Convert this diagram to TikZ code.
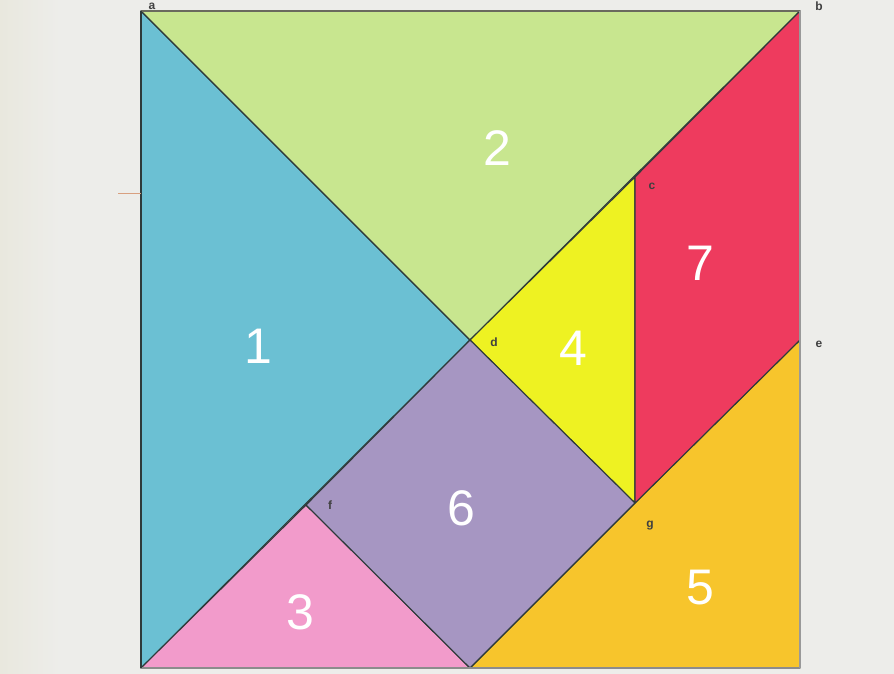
\documentclass[tikz,border=0pt]{standalone}
\usepackage{fontspec}
\setmainfont{Liberation Sans}
\definecolor{bgc}{HTML}{EDEDEA}
\definecolor{bgl}{HTML}{E9E8DE}
\definecolor{pblue}{HTML}{6BC0D3}
\definecolor{pgreen}{HTML}{C8E68F}
\definecolor{ppink}{HTML}{F29BCB}
\definecolor{pyellow}{HTML}{EEF222}
\definecolor{porange}{HTML}{F7C52C}
\definecolor{ppurple}{HTML}{A696C2}
\definecolor{pred}{HTML}{EE3B5E}
\definecolor{edgec}{HTML}{2E3A3A}
\definecolor{framec}{HTML}{6A6A5E}
\definecolor{tickc}{HTML}{D8A080}
\begin{document}
\begin{tikzpicture}[x=1pt,y=-1pt,
  piece/.style={draw=edgec,line width=1.1pt,line join=round},
  num/.style={text=white,font=\fontsize{50}{50}\selectfont},
  pt/.style={text=black!75,font=\fontsize{12}{12}\selectfont\bfseries}]
\fill[bgc] (0,0) rectangle (894,674);
\fill[left color=bgl, right color=bgc] (0,0) rectangle (60,674);
\useasboundingbox (0,0) rectangle (894,674);
% vertices
\coordinate (a) at (141,11);
\coordinate (b) at (800,11);
\coordinate (c) at (635,177);
\coordinate (d) at (470,340);
\coordinate (e) at (800,340);
\coordinate (f) at (306,505);
\coordinate (g) at (635,503);
\coordinate (bl) at (141,668);
\coordinate (bm) at (470,668);
\coordinate (br) at (800,668);
\coordinate (t1) at (118,193);
\coordinate (t2) at (141,193);
% pieces
\draw[piece,fill=pblue] (a) -- (d) -- (bl) -- cycle;
\draw[piece,fill=pgreen] (a) -- (b) -- (d) -- cycle;
\draw[piece,fill=ppink] (bl) -- (f) -- (bm) -- cycle;
\draw[piece,fill=pyellow] (c) -- (d) -- (g) -- cycle;
\draw[piece,fill=porange] (e) -- (br) -- (bm) -- (g) -- cycle;
\draw[piece,fill=ppurple] (d) -- (g) -- (bm) -- (f) -- cycle;
\draw[piece,fill=pred] (b) -- (e) -- (g) -- (c) -- cycle;
% frame
\draw[framec,line width=2.5pt] (a) -- (b);
\draw[black!45,line width=2.5pt] (bl) -- (br);
\draw[black!40,line width=2pt] (b) -- (br);
\draw[edgec,line width=2pt] (a) -- (bl);
\draw[tickc,line width=0.8pt] (t1) -- (t2);
% numbers
\node[num] (n1) at (258,346) {1};
\node[num] (n2) at (497,148) {2};
\node[num] (n3) at (300,612) {3};
\node[num] (n4) at (573,348) {4};
\node[num] (n5) at (700,588) {5};
\node[num] (n6) at (461,508) {6};
\node[num] (n7) at (700,263) {7};
% vertex labels
\node[pt] (la) at (152,6) {a};
\node[pt] (lb) at (819,6) {b};
\node[pt] (lc) at (652,186) {c};
\node[pt] (ld) at (494,342) {d};
\node[pt] (le) at (819,344) {e};
\node[pt] (lf) at (330,505) {f};
\node[pt] (lg) at (650,526) {g};
\end{tikzpicture}
\end{document}
